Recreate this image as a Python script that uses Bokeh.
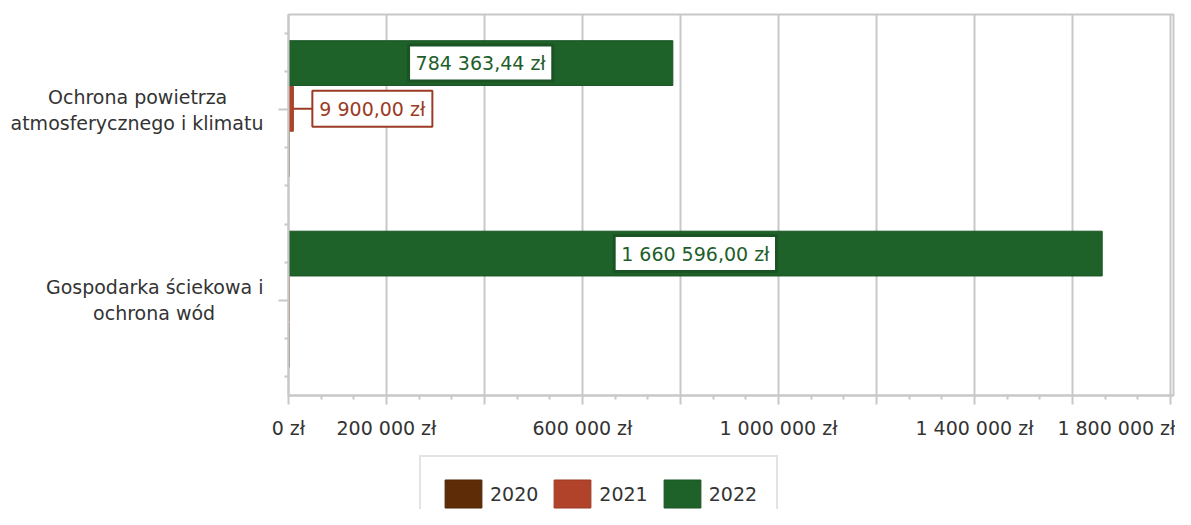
from bokeh.plotting import figure
from bokeh.layouts import column
from bokeh.models import Range1d, FixedTicker, Legend, LegendItem, ColumnDataSource, LinearAxis, Label
from bokeh.embed import file_html
from bokeh.resources import INLINE

# ---- data ----
categories = ["Ochrona powietrza\natmosferycznego i klimatu", "Gospodarka ściekowa i\nochrona wód"]
years = ["2020", "2021", "2022"]
values_2020 = [1000.0, 1000.0]
values_2021 = [9900.0, 1200.0]
values_2022 = [784363.44, 1660596.00]
x_ticks = [0, 200000, 400000, 600000, 800000, 1000000, 1200000, 1400000, 1600000, 1800000]
x_tick_labels = ["0 zł", "200 000 zł", "", "600 000 zł", "", "1 000 000 zł", "", "1 400 000 zł", "", "1 800 000 zł"]

# ---- style ----
FONT = "DejaVu Sans"
FS = "19px"
TEXT = "#333333"
GRID = "#c8c8c8"
NB = "\u00a0"
fill = {"2020": "#5e2c06", "2021": "#b0432a", "2022": "#1e6129"}
edge = {"2020": "#4e2405", "2021": "#9c3b25", "2022": "#1a5424"}
lab_col = {"2020": "#5e2c06", "2021": "#9c3b25", "2022": "#1e5e2a"}
offset = {"2022": -0.245, "2021": -0.005, "2020": 0.235}
BAR_H = 0.235

W = 1175
LB, RB, TB = 288, 2, 14
FRAME_H = 384
AXIS_H = 43
H1 = TB + FRAME_H + AXIS_H
H2 = 509 - H1
frame_w = W - LB - RB
px_per_200k = 98.0
x_end = frame_w / px_per_200k * 200000
units_per_px = x_end / frame_w

p = figure(width=W, height=H1, output_backend="svg", toolbar_location=None,
           x_range=Range1d(0, x_end), y_range=Range1d(2, 0),
           min_border_left=LB, min_border_right=RB, min_border_top=TB, min_border_bottom=AXIS_H)
p.outline_line_color = GRID
p.outline_line_width = 2
p.background_fill_color = "white"
p.border_fill_color = "white"

series = {"2020": values_2020, "2021": values_2021, "2022": values_2022}
sources = {}
for yr in years:
    sources[yr] = ColumnDataSource(dict(y=[i + 0.5 + offset[yr] for i in range(len(categories))],
                                        right=series[yr]))
    p.hbar(y="y", left=0, right="right", height=BAR_H, source=sources[yr],
           fill_color=fill[yr], line_color=edge[yr], line_width=1)

# x axis: tick marks (primary axis)
minor = []
for a, b in zip(x_ticks[:-1], x_ticks[1:]):
    minor += [a + (b - a) / 3, a + 2 * (b - a) / 3]
ax = p.xaxis[0]
ax.ticker = FixedTicker(ticks=x_ticks, minor_ticks=minor)
ax.major_label_overrides = {t: "" for t in x_ticks}
ax.major_label_standoff = 0
ax.axis_line_color = GRID
ax.axis_line_width = 2
ax.major_tick_line_color = GRID
ax.major_tick_line_width = 2
ax.major_tick_in = 0
ax.major_tick_out = 9
ax.minor_tick_line_color = GRID
ax.minor_tick_line_width = 2
ax.minor_tick_in = 0
ax.minor_tick_out = 4
ax.major_label_text_font = FONT
ax.major_label_text_font_size = FS

# x axis: tick labels (the last one pulled inside the canvas)
shown = [(t, l) for t, l in zip(x_ticks, x_tick_labels) if l]
label_pos = [t for t, _ in shown]
label_pos[-1] = x_ticks[-1] - round(47 * units_per_px)
lab_ax = LinearAxis(ticker=FixedTicker(ticks=label_pos, minor_ticks=[]),
                    major_label_overrides={pos: l for pos, (_, l) in zip(label_pos, shown)},
                    axis_line_color=None, major_tick_line_color=None, minor_tick_line_color=None,
                    major_tick_in=0, major_tick_out=0, minor_tick_in=0, minor_tick_out=0,
                    major_label_text_font=FONT, major_label_text_font_size=FS,
                    major_label_text_color=TEXT, major_label_standoff=12)
p.add_layout(lab_ax, "below")

p.xgrid.ticker = FixedTicker(ticks=x_ticks)
p.xgrid.grid_line_color = GRID
p.xgrid.grid_line_width = 2
p.ygrid.visible = False

# y axis (category labels, lines visually centred)
cat_centers = [i + 0.5 for i in range(len(categories))]
pads = [6, 8]
ylabels = {}
for c, name, pad in zip(cat_centers, categories, pads):
    l1, l2 = name.split("\n")
    if len(l1) < len(l2):
        l1 = l1 + NB * pad
    else:
        l2 = l2 + NB * pad
    ylabels[c] = l1 + "\n" + l2
yminor = []
for c in cat_centers:
    yminor += [c - 0.4, c - 0.2, c + 0.2, c + 0.4]
p.yaxis.ticker = FixedTicker(ticks=cat_centers, minor_ticks=yminor)
p.yaxis.major_label_overrides = ylabels
p.yaxis.axis_line_color = GRID
p.yaxis.axis_line_width = 2
p.yaxis.major_tick_line_color = GRID
p.yaxis.major_tick_line_width = 2
p.yaxis.major_tick_in = 0
p.yaxis.major_tick_out = 10
p.yaxis.minor_tick_line_color = GRID
p.yaxis.minor_tick_line_width = 2
p.yaxis.minor_tick_in = 0
p.yaxis.minor_tick_out = 4
p.yaxis.major_label_text_font = FONT
p.yaxis.major_label_text_font_size = FS
p.yaxis.major_label_text_color = TEXT
p.yaxis.major_label_standoff = 15

# data labels
def fmt(v):
    return f"{v:,.2f}".replace(",", " ").replace(".", ",") + " zł"

LABEL_W_PX = 150
for yr in years:
    for i, v in enumerate(series[yr]):
        if v < 5000:
            continue
        yc = i + 0.5 + offset[yr]
        bar_px = v / units_per_px
        if bar_px > LABEL_W_PX:
            p.add_layout(Label(x=v / 2, y=yc, text=fmt(v), text_align="center",
                               text_baseline="middle", text_font=FONT, text_font_size=FS,
                               text_color=lab_col[yr], background_fill_color="white",
                               border_line_color=edge[yr], border_line_width=3, padding=7))
        else:
            lead = 19 * units_per_px
            p.segment(x0=[v], y0=[yc], x1=[v + lead], y1=[yc], line_color=edge[yr], line_width=2)
            p.add_layout(Label(x=v + lead, y=yc, text=fmt(v), text_align="left",
                               text_baseline="middle", text_font=FONT, text_font_size=FS,
                               text_color=lab_col[yr], background_fill_color="white",
                               border_line_color=edge[yr], border_line_width=2, padding=7))

# legend in its own strip below the chart (its frame is aligned with the chart's frame)
q = figure(width=W, height=H2, output_backend="svg", toolbar_location=None,
           x_range=Range1d(0, 1), y_range=Range1d(100, 101),
           x_axis_type=None, y_axis_type=None, min_border=0)
q.outline_line_color = None
q.xgrid.visible = False
q.ygrid.visible = False
leg_r = {}
for yr in years:
    leg_r[yr] = q.hbar(y="y", left=0, right="right", height=BAR_H, source=sources[yr],
                       fill_color=fill[yr], line_color=edge[yr], line_width=1)
LEG_H = 76
LEG_LEFT, LEG_TOP = 419, 456
legend = Legend(items=[LegendItem(label=yr, renderers=[leg_r[yr]]) for yr in years],
                location=(LEG_LEFT - LB, H2 - (LEG_TOP - H1) - LEG_H), orientation="horizontal")
legend.border_line_color = GRID
legend.border_line_width = 2
legend.background_fill_color = "white"
legend.padding = 19
legend.spacing = 11
legend.margin = 0
legend.label_standoff = 4
legend.glyph_width = 46
legend.glyph_height = 35
legend.label_text_font = FONT
legend.label_text_font_size = FS
legend.label_text_color = TEXT
q.add_layout(legend)

open("out.html", "w").write(file_html(column(p, q, spacing=0), INLINE))
